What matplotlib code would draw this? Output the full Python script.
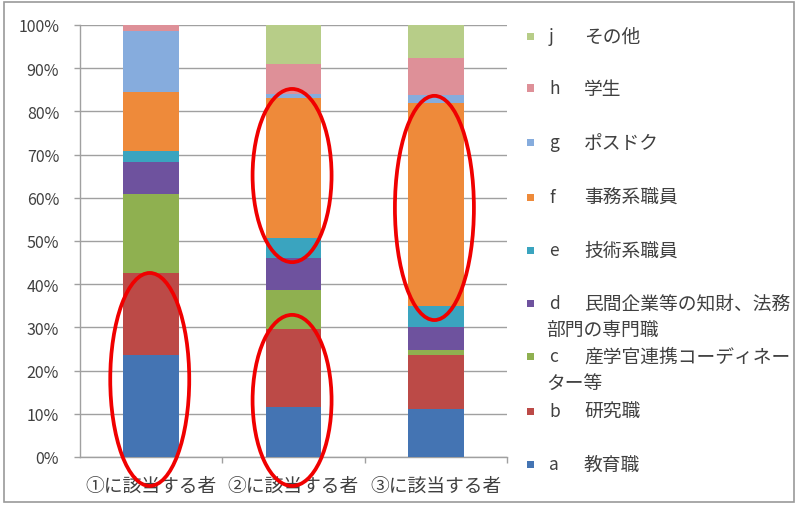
import matplotlib
matplotlib.use("Agg")
import matplotlib.pyplot as plt
from matplotlib.patches import Ellipse, Rectangle
import numpy as np

plt.rcParams['font.family'] = ['Noto Sans CJK JP', 'DejaVu Sans']

# Categories and composition (%) of each group
categories = ["①に該当する者", "②に該当する者", "③に該当する者"]
series_keys = ["a", "b", "c", "d", "e", "f", "g", "h", "j"]
series_names = ["教育職", "研究職", "産学官連携コーディネーター等",
                "民間企業等の知財、法務部門の専門職", "技術系職員", "事務系職員",
                "ポスドク", "学生", "その他"]
a_vals = [23.7, 11.6, 11.0]
b_vals = [18.9, 18.1, 12.7]
c_vals = [18.3, 8.9, 1.0]
d_vals = [7.5, 7.4, 5.4]
e_vals = [2.5, 4.7, 4.8]
f_vals = [13.5, 32.3, 47.1]
g_vals = [14.1, 1.0, 1.8]
h_vals = [1.5, 7.0, 8.5]
j_vals = [0.0, 9.0, 7.7]
yticks = [0, 10, 20, 30, 40, 50, 60, 70, 80, 90, 100]

values = [a_vals, b_vals, c_vals, d_vals, e_vals, f_vals, g_vals, h_vals, j_vals]
colors = ["#4474B3", "#BC4A47", "#8FB050", "#6E529E", "#3AA4BF",
          "#EE8A3A", "#86ACDD", "#DE9098", "#B7CD88"]

# highlighted ranges: (category index, low %, high %)
highlights = [(0, -6.7, 42.6), (1, -6.7, 32.9), (1, 45.1, 85.2), (2, 31.7, 83.6)]

W, H = 800, 506
fig = plt.figure(figsize=(W / 100, H / 100), dpi=100)
ax = fig.add_axes([80 / W, 1 - 458 / H, (507 - 80) / W, (458 - 26) / H])

x = np.arange(len(categories))
bottom = np.zeros(len(categories))
for vals, col in zip(values, colors):
    v = np.array(vals, dtype=float)
    ax.bar(x, v, width=0.39, bottom=bottom, color=col, edgecolor="none", zorder=3)
    bottom += v

ax.set_xlim(-0.5, 2.5)
ax.set_ylim(0, 100)
ax.set_yticks(yticks)
ax.set_yticklabels([f"{t}%" for t in yticks], fontsize=11.5, color="#404040")
ax.yaxis.grid(True, color="#A0A0A0", linewidth=1.0, zorder=0)
ax.tick_params(axis="y", length=4, width=1.0, color="#A0A0A0", pad=11)

ax.set_xticks(x)
ax.set_xticklabels(categories, fontsize=13.5, color="#404040")
ax.tick_params(axis="x", length=0, pad=13)
ax.set_xticks([0.5, 1.5, 2.5], minor=True)
ax.tick_params(axis="x", which="minor", length=4, width=1.0, color="#A0A0A0")

for side in ["top", "right"]:
    ax.spines[side].set_visible(False)
for side in ["left", "bottom"]:
    ax.spines[side].set_color("#A0A0A0")
    ax.spines[side].set_linewidth(1.0)

# red ellipses around the emphasised segments
for idx, lo, hi in highlights:
    ell = Ellipse((idx - 0.01, (lo + hi) / 2), width=0.555, height=hi - lo,
                  fill=False, edgecolor="#F00000", linewidth=2.7,
                  clip_on=False, zorder=6)
    ax.add_patch(ell)

# legend, drawn top-down from the last series
def fx(px):
    return px / W

def fy(py):
    return 1 - py / H

legend_rows = [
    ("j", "その他", None, 37),
    ("h", "学生", None, 89),
    ("g", "ポスドク", None, 143),
    ("f", "事務系職員", None, 198),
    ("e", "技術系職員", None, 251),
    ("d", "民間企業等の知財、法務", "部門の専門職", 304),
    ("c", "産学官連携コーディネー", "ター等", 357),
    ("b", "研究職", None, 412),
    ("a", "教育職", None, 465),
]
key_color = dict(zip(series_keys, colors))
for key, line1, line2, py in legend_rows:
    fig.patches.append(Rectangle((fx(527), fy(py + 3.5)), 7 / W, 7 / H,
                                 transform=fig.transFigure,
                                 facecolor=key_color[key], edgecolor="none"))
    fig.text(fx(549), fy(py), key, fontsize=12.5, color="#404040",
             va="center", ha="left")
    fig.text(fx(584), fy(py), line1, fontsize=13.5, color="#404040",
             va="center", ha="left")
    if line2:
        fig.text(fx(546), fy(py + 26), line2, fontsize=13.5, color="#404040",
                 va="center", ha="left")

# chart border
fig.patches.append(Rectangle((fx(4), fy(503)), (794 - 4) / W, (503 - 3) / H,
                             transform=fig.transFigure, fill=False,
                             edgecolor="#9A9A9A", linewidth=1.2))

fig.savefig("out.png", dpi=100)
